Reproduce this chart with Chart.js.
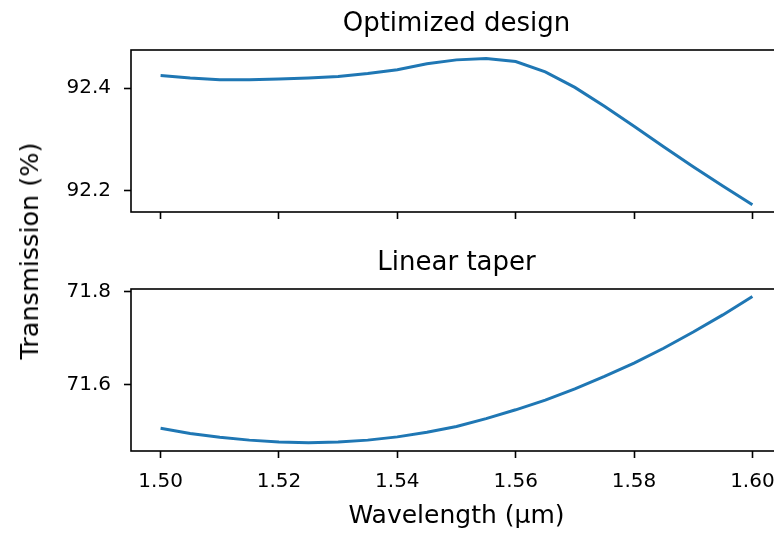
<!DOCTYPE html>
<html>
<head>
<meta charset="utf-8">
<script src="https://cdn.jsdelivr.net/npm/chart.js@4/dist/chart.umd.min.js"></script>
<style>
  html, body { margin: 0; padding: 0; background: #fff; }
  #fig { position: relative; width: 774px; height: 534px; overflow: hidden; }
  #fig canvas { position: absolute; left: 0; }
  #topChart { top: 0; }
  #bottomChart { top: 220px; }
  #ylabel {
    position: absolute; left: 29px; top: 251px;
    transform: translate(-50%, -50%) rotate(-90deg);
    font: 25.5px 'DejaVu Sans', sans-serif; white-space: nowrap; color: #000;
  }
</style>
</head>
<body>
<div id="fig">
  <canvas id="topChart" width="800" height="220"></canvas>
  <canvas id="bottomChart" width="800" height="314"></canvas>
  <div id="ylabel">Transmission (%)</div>
</div>
<script>
// wavelength samples (µm)
const wavelength = [1.500, 1.505, 1.510, 1.515, 1.520, 1.525, 1.530, 1.535, 1.540, 1.545,
                    1.550, 1.555, 1.560, 1.565, 1.570, 1.575, 1.580, 1.585, 1.590, 1.595, 1.600];

// transmission (%) of the optimized design
const optimized = [92.4245, 92.4194, 92.4161, 92.4161, 92.4174, 92.4194, 92.4226, 92.4284, 92.4355, 92.4471,
                   92.4548, 92.4574, 92.4516, 92.4316, 92.4013, 92.3645, 92.3258, 92.2858, 92.2471, 92.2097, 92.1729];

// transmission (%) of the linear taper
const linearTaper = [71.505, 71.494, 71.4855, 71.4795, 71.4755, 71.474, 71.4752, 71.4795, 71.4865, 71.4965,
                     71.509, 71.526, 71.545, 71.566, 71.590, 71.617, 71.646, 71.678, 71.713, 71.750, 71.790];

const xTicks = [1.50, 1.52, 1.54, 1.56, 1.58, 1.60];
const topYTicks = [92.2, 92.4];
const bottomYTicks = [71.6, 71.8];

Chart.defaults.font.family = "'DejaVu Sans', sans-serif";
Chart.defaults.color = '#000';

const lineColor = '#1f77b4';

// draws the four spines around the plot area
const boxPlugin = {
    id: 'box',
    afterDraw(chart) {
        const a = chart.chartArea;
        const ctx = chart.ctx;
        ctx.save();
        ctx.strokeStyle = '#000';
        ctx.lineWidth = 1.6;
        ctx.strokeRect(a.left, a.top, a.right - a.left, a.bottom - a.top);
        ctx.restore();
    }
};

function tickGrid() {
    return {
        drawOnChartArea: false,
        drawTicks: true,
        tickLength: 7,
        tickWidth: 1.6,
        tickColor: '#000'
    };
}

function makeChart(id, values, yMin, yMax, yTicks, title, titlePad, showX, xHeight) {
    return new Chart(document.getElementById(id), {
        type: 'line',
        data: {
            datasets: [{
                data: wavelength.map((w, i) => ({ x: w, y: values[i] })),
                borderColor: lineColor,
                borderWidth: 3,
                pointRadius: 0,
                tension: 0,
                fill: false
            }]
        },
        options: {
            responsive: false,
            animation: false,
            layout: { padding: { left: 0, right: 18, top: 0, bottom: 0 } },
            plugins: {
                legend: { display: false },
                tooltip: { enabled: false },
                title: {
                    display: true,
                    fullSize: false,
                    text: title,
                    font: { size: 26, weight: 'normal' },
                    padding: titlePad,
                    color: '#000'
                }
            },
            scales: {
                x: {
                    type: 'linear',
                    min: 1.495,
                    max: 1.605,
                    border: { display: false },
                    grid: tickGrid(),
                    afterBuildTicks: s => { s.ticks = xTicks.map(v => ({ value: v })); },
                    afterFit: s => { s.height = xHeight; s.paddingLeft = 0; s.paddingRight = 0; },
                    ticks: {
                        display: showX,
                        padding: 12,
                        font: { size: 20 },
                        maxRotation: 0,
                        callback: v => v.toFixed(2)
                    },
                    title: {
                        display: showX,
                        text: 'Wavelength (µm)',
                        font: { size: 25 },
                        padding: { top: 0, bottom: 3 }
                    }
                },
                y: {
                    min: yMin,
                    max: yMax,
                    border: { display: false },
                    grid: tickGrid(),
                    afterBuildTicks: s => { s.ticks = yTicks.map(v => ({ value: v })); },
                    // fixed axis width; drop the label overhang so the plot box stays put
                    afterFit: s => { s.width = 131; s.paddingTop = 0; s.paddingBottom = 0; },
                    ticks: {
                        padding: 13,
                        font: { size: 20 },
                        callback: v => v.toFixed(1)
                    }
                }
            }
        },
        plugins: [boxPlugin]
    });
}

makeChart('topChart', optimized, 92.159, 92.474, topYTicks, 'Optimized design',
          { top: 8.4, bottom: 10.4 }, false, 8);
makeChart('bottomChart', linearTaper, 71.456, 71.806, bottomYTicks, 'Linear taper',
          { top: 27.4, bottom: 10.4 }, true, 83);
</script>
</body>
</html>
